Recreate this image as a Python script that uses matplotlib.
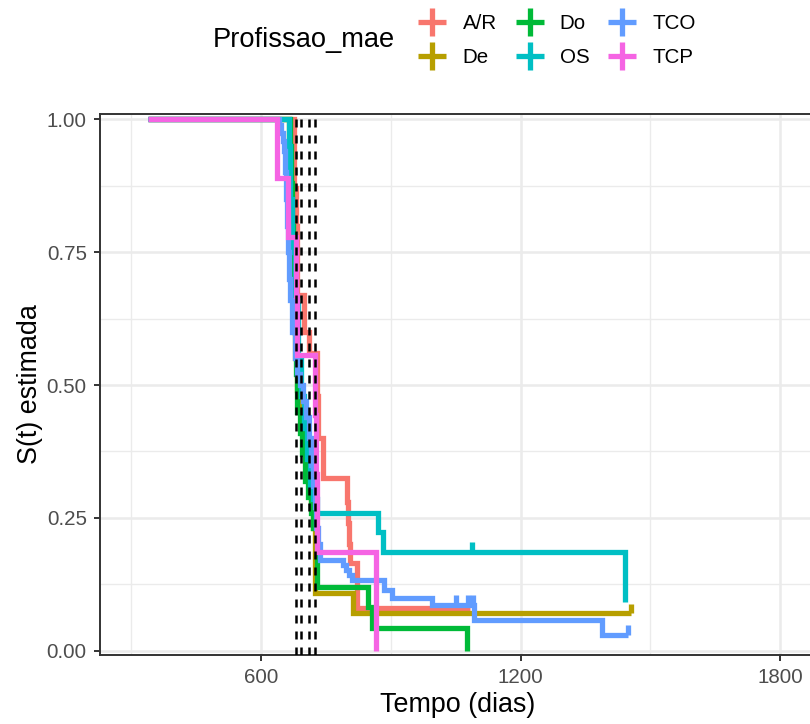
import numpy as np
import matplotlib
matplotlib.use("Agg")
import matplotlib.pyplot as plt
from matplotlib.lines import Line2D
from matplotlib.ticker import MultipleLocator, FormatStrFormatter

# Kaplan-Meier por profissão da mãe (tempos em dias)
grupos = ["A/R", "De", "Do", "OS", "TCO", "TCP"]
cores = ["#F8766D", "#B79F00", "#00BA38", "#00BFC4", "#619CFF", "#F564E3"]

ar_tempo = [340, 676, 680, 684, 699, 710, 729, 733, 744, 799, 801, 803, 806, 821, 823, 1083]
ar_surv = [1.0, 0.87, 0.80, 0.67, 0.60, 0.56, 0.48, 0.40, 0.325, 0.28, 0.24, 0.20, 0.165, 0.12, 0.08, 0.08]
ar_cens = []

de_tempo = [340, 665, 670, 674, 678, 684, 692, 700, 708, 716, 721, 725, 813, 1455]
de_surv = [1.0, 0.90, 0.78, 0.66, 0.55, 0.49, 0.45, 0.40, 0.34, 0.28, 0.23, 0.108, 0.070, 0.070]
de_cens = [1455]

do_tempo = [340, 667, 669, 672, 675, 677, 680, 683, 690, 696, 702, 709, 715, 720, 729, 848, 856, 1076]
do_surv = [1.0, 0.95, 0.88, 0.80, 0.70, 0.60, 0.52, 0.45, 0.41, 0.37, 0.32, 0.29, 0.26, 0.23, 0.12, 0.083, 0.042, 0.0]
do_cens = []

os_tempo = [340, 665, 668, 672, 678, 685, 693, 700, 707, 713, 720, 729, 871, 882, 1442]
os_surv = [1.0, 0.95, 0.85, 0.75, 0.65, 0.55, 0.48, 0.42, 0.36, 0.31, 0.285, 0.2585, 0.224, 0.186, 0.092]
os_cens = [1089]

tco_tempo = [340, 642, 646, 650, 653, 656, 658, 661, 663, 665, 667, 672, 678, 683, 690, 697, 705,
             712, 716, 720, 724, 728, 732, 736, 790, 797, 804, 811, 885, 903, 995, 1093, 1388, 1449]
tco_surv = [1.0, 0.99, 0.975, 0.96, 0.94, 0.90, 0.85, 0.80, 0.75, 0.70, 0.66, 0.60, 0.55, 0.52, 0.50, 0.47, 0.44,
            0.40, 0.35, 0.31, 0.27, 0.23, 0.20, 0.171, 0.161, 0.152, 0.142, 0.133, 0.114, 0.10, 0.086, 0.058, 0.0295, 0.0295]
tco_cens = [1052, 1078, 1090, 1449]

tcp_tempo = [340, 636, 663, 682, 684, 726, 728, 730, 867]
tcp_surv = [1.0, 0.889, 0.778, 0.667, 0.556, 0.444, 0.333, 0.185, 0.0]
tcp_cens = []

tempos = [ar_tempo, de_tempo, do_tempo, os_tempo, tco_tempo, tcp_tempo]
survs = [ar_surv, de_surv, do_surv, os_surv, tco_surv, tcp_surv]
censuras = [ar_cens, de_cens, do_cens, os_cens, tco_cens, tcp_cens]

# medianas de sobrevida (linhas tracejadas)
medianas = [682, 692, 711, 726]

plt.rcParams["font.family"] = ["Liberation Sans", "DejaVu Sans"]

fig = plt.figure(figsize=(8.1, 7.24), dpi=100)
ax = fig.add_axes([100 / 810, 69 / 724, 716 / 810, 541 / 724])

for t, s, cens, cor in zip(tempos, survs, censuras, cores):
    ax.step(t, s, where="post", color=cor, lw=3.8,
            solid_joinstyle="miter", solid_capstyle="butt", zorder=3)
    if cens:
        idx = np.searchsorted(t, cens, side="right") - 1
        base = np.array(s)[idx]
        ax.vlines(cens, base, base + 0.018, color=cor, lw=3.8, zorder=3)

for m in medianas:
    ax.axvline(m, color="black", lw=1.8, linestyle=(0, (3.2, 3.2)), zorder=4)

ax.set_xlim(228, 1883)
ax.set_ylim(-0.0081, 1.010)
ax.set_xticks([600, 1200, 1800])
ax.set_yticks([0, 0.25, 0.5, 0.75, 1.0])
ax.xaxis.set_minor_locator(MultipleLocator(300))
ax.yaxis.set_minor_locator(MultipleLocator(0.125))
ax.yaxis.set_major_formatter(FormatStrFormatter("%.2f"))

ax.grid(which="major", color="#EBEBEB", lw=1.8)
ax.grid(which="minor", color="#EBEBEB", lw=1.0)
ax.set_axisbelow(True)

for sp in ax.spines.values():
    sp.set_color("#333333")
    sp.set_linewidth(1.4)

ax.tick_params(which="major", length=4.5, width=1.4, color="#333333",
               labelcolor="#4D4D4D", labelsize=14.8, pad=5)
ax.tick_params(which="minor", length=0)

ax.set_xlabel("Tempo (dias)", fontsize=19.4, va="center")
ax.xaxis.set_label_coords(0.5, -(705 - 655) / 541)
ax.set_ylabel("S(t) estimada", fontsize=19.4, va="center")
ax.yaxis.set_label_coords(-(100 - 30) / 716, 0.5)

# legenda horizontal no topo
fig.text(213 / 810, 1 - 40 / 724, "Profissao_mae", fontsize=19.6, ha="left", va="center")
handles = [Line2D([], [], color=c, marker="+", markersize=20, mew=3.8, linestyle="None")
           for c in cores]
fig.legend(handles, grupos, ncol=3, loc="upper left", bbox_to_anchor=(414 / 810, 1 - 14 / 724),
           frameon=False, fontsize=14.8, handlelength=1.8, handletextpad=0.56,
           columnspacing=0.7, labelspacing=0.72, borderpad=0, borderaxespad=0)

fig.savefig("out.png", dpi=100)
